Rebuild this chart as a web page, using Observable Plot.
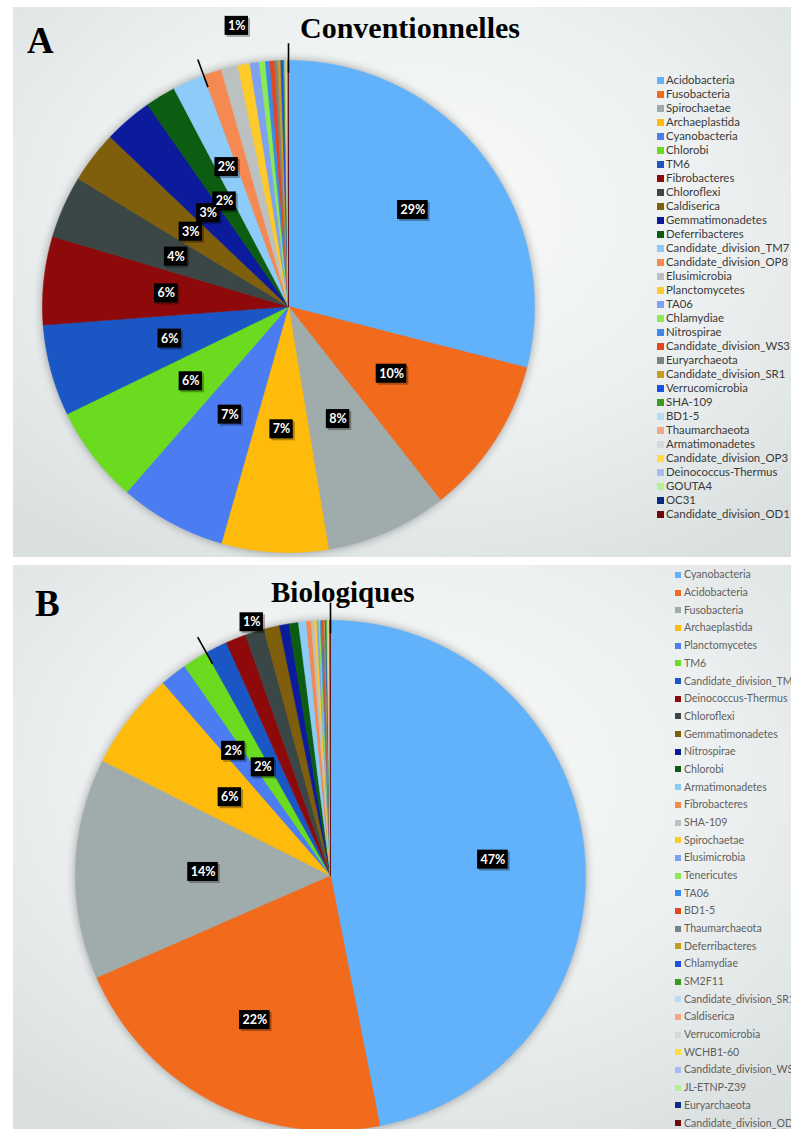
<!DOCTYPE html>
<html><head><meta charset="utf-8">
<script src="https://cdn.jsdelivr.net/npm/d3@7"></script>
<script src="https://cdn.jsdelivr.net/npm/@observablehq/plot@0.6"></script>
<style>
html,body{margin:0;padding:0;background:#fff}
body{width:791px;height:1129px;overflow:hidden;position:relative;font-family:Lato,"Open Sans",sans-serif}
.panel{position:absolute;left:13px;width:778px;background:radial-gradient(ellipse 75% 75% at 50% 38%,#fbfcfc 0%,#edf0f0 55%,#d9dfdf 100%)}
.chart{position:absolute;left:0}
.title{position:absolute;font-family:"Liberation Serif","Times New Roman",serif;font-weight:bold;color:#000;white-space:nowrap}
.leg{position:absolute;white-space:nowrap;font-family:Lato,sans-serif}
.leg span.sw{position:absolute;display:block}
</style></head><body>
<div class="panel" style="top:7px;height:550px"></div>
<div class="panel" style="top:565px;height:564px"></div>
<div id="chartA" class="chart" style="top:0px"></div>
<div id="chartB" class="chart" style="top:562px"></div>
<div class="title" style="left:27px;top:22px;font-size:37px;line-height:37px">A</div>
<div class="title" style="left:300px;top:13px;font-size:30px;line-height:30px">Conventionnelles</div>
<div class="title" style="left:35px;top:585px;font-size:37px;line-height:37px">B</div>
<div class="title" style="left:271px;top:578px;font-size:29px;line-height:29px">Biologiques</div>
<div id="legA"></div>
<div id="legB"></div>
<script>
// Excel-like palette, assigned by slice order
const palette = ["#62B1FB","#F26A1B","#A0ABAB","#FFBB0C","#4B7CF2","#6BDB1F","#1A57C4","#8E0A0A",
  "#3B4747","#7F5E0C","#0B1B9B","#0C5C12","#8DCBF8","#F58951","#BBC1C1","#FFCB2A",
  "#7FA2F0","#8BEA56","#3A8AEE","#E2471E","#7B8383","#C79D1D","#1D4FE2","#3A9A1E",
  "#B3DCF8","#F4A687","#D3D8D8","#FFDC45","#A5BDF2","#B7F090","#0B2A85","#6B0B0B"];

// Panel A — Conventionnelles
const categoriesA = ["Acidobacteria","Fusobacteria","Spirochaetae","Archaeplastida","Cyanobacteria","Chlorobi","TM6",
  "Fibrobacteres","Chloroflexi","Caldiserica","Gemmatimonadetes","Deferribacteres","Candidate_division_TM7",
  "Candidate_division_OP8","Elusimicrobia","Planctomycetes","TA06","Chlamydiae","Nitrospirae","Candidate_division_WS3",
  "Euryarchaeota","Candidate_division_SR1","Verrucomicrobia","SHA-109","BD1-5","Thaumarchaeota","Armatimonadetes",
  "Candidate_division_OP3","Deinococcus-Thermus","GOUTA4","OC31","Candidate_division_OD1"];
const valuesA = [29.0,10.4,8.0,7.0,7.0,6.4,6.0,5.8,4.1,3.4,3.2,2.0,2.1,1.2,1.1,0.8,0.6,0.4,0.3,0.3,
  0.2,0.2,0.15,0.1,0.05,0.05,0.04,0.03,0.03,0.02,0.02,0.01];
const labelsA = ["29%","10%","8%","7%","7%","6%","6%","6%","4%","3%","3%","2%","2%","","","1%",
  "","","","","","","","","","","","","","","",""];
const leadersA = ["Candidate_division_TM7","Candidate_division_OD1"];

// Panel B — Biologiques
const categoriesB = ["Cyanobacteria","Acidobacteria","Fusobacteria","Archaeplastida","Planctomycetes","TM6",
  "Candidate_division_TM7","Deinococcus-Thermus","Chloroflexi","Gemmatimonadetes","Nitrospirae","Chlorobi",
  "Armatimonadetes","Fibrobacteres","SHA-109","Spirochaetae","Elusimicrobia","Tenericutes","TA06","BD1-5",
  "Thaumarchaeota","Deferribacteres","Chlamydiae","SM2F11","Candidate_division_SR1","Caldiserica",
  "Verrucomicrobia","WCHB1-60","Candidate_division_WS3","JL-ETNP-Z39","Euryarchaeota","Candidate_division_OD1"];
const valuesB = [47.0,21.6,14.0,6.2,1.7,1.6,1.4,1.3,1.2,1.0,0.6,0.6,0.5,0.3,0.2,0.15,0.12,0.1,0.1,0.08,
  0.08,0.06,0.05,0.05,0.04,0.04,0.03,0.03,0.02,0.02,0.02,0.02];
const labelsB = ["47%","22%","14%","6%","2%","2%","","","1%","","","","","","","",
  "","","","","","","","","","","","","","","",""];
const leadersB = ["TM6","Candidate_division_OD1"];

function pieChart({categories, values, labels, leaders, height, cx, cy, r, outsideR}) {
  const arcs = d3.pie().sort(null).value(d => d)(values);
  const total = d3.sum(values);
  const slices = [];
  arcs.forEach((a, i) => {
    const n = Math.max(2, Math.ceil((a.endAngle - a.startAngle) / 0.004));
    slices.push({cat: categories[i], x: 0, y: 0});
    for (let k = 0; k <= n; k++) {
      const t = a.startAngle + (a.endAngle - a.startAngle) * k / n;
      slices.push({cat: categories[i], x: Math.sin(t), y: -Math.cos(t)});
    }
    slices.push({cat: categories[i], x: 0, y: 0});
  });
  const lab = [];
  arcs.forEach((a, i) => {
    if (!labels[i]) return;
    const share = values[i] / total;
    const mid = (a.startAngle + a.endAngle) / 2;
    const f = share >= 0.2 ? 0.64 : share < 0.015 ? outsideR : 0.5;
    lab.push({text: labels[i], mid, f, v: values[i]});
  });
  const pos = d => [Math.sin(d.mid) * d.f * r, -Math.cos(d.mid) * d.f * r];
  for (let k = 1; k < lab.length; k++) {
    const [px, py] = pos(lab[k - 1]), [qx, qy] = pos(lab[k]);
    if (Math.hypot(px - qx, py - qy) < 17) {
      const m = lab[k - 1].v > lab[k].v ? lab[k - 1] : lab[k];
      m.f = 0.62;
    }
  }
  lab.forEach(d => {
    d.x = Math.sin(d.mid) * d.f;
    d.y = -Math.cos(d.mid) * d.f;
    const hw = (d.text.length * 7.2 + 9) / 2 / r, hh = 9.5 / r;
    d.x1 = d.x - hw; d.x2 = d.x + hw; d.y1 = d.y - hh; d.y2 = d.y + hh;
  });
  const lead = leaders.map(c => {
    const a = arcs[categories.indexOf(c)].endAngle;
    return {x1: Math.sin(a) * 0.95, y1: -Math.cos(a) * 0.95, x2: Math.sin(a) * 1.07, y2: -Math.cos(a) * 1.07};
  });
  const svg = Plot.plot({
    width: 791, height, margin: 0,
    style: {background: "transparent", overflow: "visible"},
    x: {domain: [-1, 1], range: [cx - r, cx + r], axis: null},
    y: {domain: [-1, 1], range: [cy - r, cy + r], axis: null},
    color: {domain: categories, range: palette},
    marks: [
      Plot.line(slices, {x: "x", y: "y", z: "cat", fill: "cat", stroke: "cat", strokeWidth: 0.6, curve: "linear"}),
      Plot.link(lead, {x1: "x1", y1: "y1", x2: "x2", y2: "y2", stroke: "#000", strokeWidth: 1.6}),
      Plot.rect(lab, {x1: "x1", x2: "x2", y1: "y1", y2: "y2", fill: "#000", fillOpacity: 0.3, dx: 2, dy: 2}),
      Plot.rect(lab, {x1: "x1", x2: "x2", y1: "y1", y2: "y2", fill: "#000"}),
      Plot.text(lab, {x: "x", y: "y", text: "text", fill: "#fff", fontWeight: "bold", fontSize: 12.5, fontFamily: "Lato"})
    ]
  });
  const g = svg.querySelector('g[aria-label="line"]');
  if (g) g.style.filter = "drop-shadow(0px 0px 5px rgba(0,0,0,0.35))";
  return svg;
}

document.getElementById("chartA").appendChild(pieChart({
  categories: categoriesA, values: valuesA, labels: labelsA, leaders: leadersA,
  height: 557, cx: 288, cy: 306, r: 246, outsideR: 1.16}));
document.getElementById("chartB").appendChild(pieChart({
  categories: categoriesB, values: valuesB, labels: labelsB, leaders: leadersB,
  height: 567, cx: 330, cy: 313, r: 255, outsideR: 1.04}));

function legend(el, cats, {x0, y0, step, sw, tx, size, color}) {
  cats.forEach((c, i) => {
    const yc = y0 + i * step;
    const row = document.createElement("div");
    row.className = "leg";
    row.style.left = "0px"; row.style.top = "0px";
    const s = document.createElement("span");
    s.className = "sw";
    s.style.cssText = `position:absolute;left:${x0}px;top:${yc - sw / 2}px;width:${sw}px;height:${sw}px;background:${palette[i]}`;
    const t = document.createElement("span");
    t.textContent = c;
    t.style.cssText = `position:absolute;left:${tx}px;top:${yc - size * 0.62}px;font-size:${size}px;line-height:${size * 1.2}px;color:${color};white-space:nowrap`;
    row.appendChild(s); row.appendChild(t);
    el.appendChild(row);
  });
}
legend(document.getElementById("legA"), categoriesA, {x0: 657, y0: 80, step: 14, sw: 7, tx: 666, size: 11.4, color: "#3a3a3a"});
legend(document.getElementById("legB"), categoriesB, {x0: 675, y0: 575, step: 17.68, sw: 6, tx: 684, size: 10.6, color: "#606060"});
</script>
</body></html>
